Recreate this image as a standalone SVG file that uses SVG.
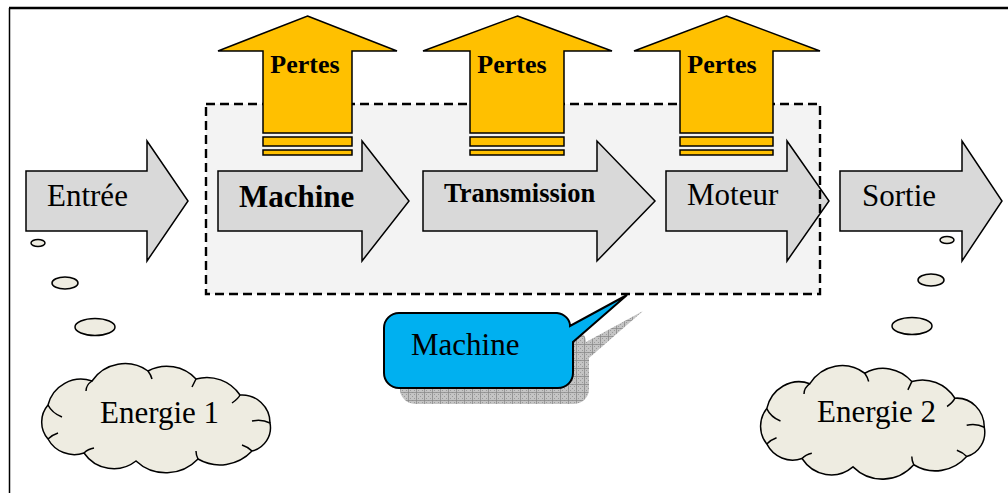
<svg xmlns="http://www.w3.org/2000/svg" width="1008" height="493" viewBox="0 0 1008 493">
  <style>
    .frame { stroke: #000; fill: none; }
    .flow { fill: #d9d9d9; stroke: #000; stroke-width: 1.5; stroke-linejoin: miter; }
    .loss { fill: #ffc000; stroke: #000; stroke-width: 1.5; }
    .bubble { fill: #eeece1; stroke: #000; stroke-width: 1.5; }
    .cloud-line { fill: none; stroke: #000; stroke-width: 1.5; }
    .t { font-family: "Liberation Serif", "Times New Roman", serif; fill: #000; }
    .reg { font-size: 31px; }
    .bold { font-weight: bold; }
    .loss-t { font-size: 26px; font-weight: bold; text-anchor: middle; }
  </style>
  <defs>
    <pattern id="hatch" width="8" height="8" patternUnits="userSpaceOnUse">
      <rect width="8" height="8" fill="#c4c4c4"/>
      <rect x="0" y="0" width="1" height="1" fill="#9a9a9a"/>
      <rect x="2" y="2" width="1" height="1" fill="#9a9a9a"/>
      <rect x="4" y="4" width="1" height="1" fill="#9a9a9a"/>
      <rect x="6" y="6" width="1" height="1" fill="#9a9a9a"/>
      <rect x="4" y="0" width="1" height="1" fill="#9a9a9a"/>
      <rect x="0" y="4" width="1" height="1" fill="#9a9a9a"/>
      <rect x="6" y="2" width="1" height="1" fill="#9a9a9a"/>
      <rect x="2" y="6" width="1" height="1" fill="#9a9a9a"/>
      <path d="M0 0.5 H8 M0.5 0 V8" stroke="#8c8c8c" stroke-width="0.8"/>
    </pattern>
    <!-- cloud outline in a 240 x 100 box -->
    <path id="cloud-shape" d="M12 74 A26 26 0 0 1 12 40 A34 34 0 0 1 56 16 A40 40 0 0 1 112 6 A40 40 0 0 1 160 14 A40 40 0 0 1 204 30 A28 28 0 0 1 234 58 A24 24 0 0 1 216 86 A44 44 0 0 1 162 94 A44 44 0 0 1 100 96 A36 36 0 0 1 48 88 A30 30 0 0 1 12 74 Z"/>
    <g id="cloud">
      <use href="#cloud-shape" class="bubble"/>
      <path class="cloud-line" d="M12 40 Q16 48 26 52 M56 16 Q50 20 50 26 M112 6 Q115 10 116 14 M160 14 Q158 18 156 22 M204 30 Q202 34 196 38 M234 58 Q226 54 216 56 M216 86 Q212 82 206 80 M162 94 Q160 90 160 86 M48 88 Q52 84 58 83 M12 74 Q16 70 22 68"/>
    </g>
  </defs>

  <!-- page frame -->
  <path class="frame" d="M9 8 H1008" stroke-width="2.5"/>
  <path class="frame" d="M9.5 8 V493" stroke-width="1.5"/>

  <!-- machine boundary -->
  <rect id="machine-zone" x="206" y="104" width="614" height="190" fill="#f3f3f3"/>

  <g id="connectors">
    <!-- thought bubbles from input / output to energies -->
    <ellipse class="bubble" cx="38" cy="243" rx="7" ry="3.5"/>
    <ellipse class="bubble" cx="65" cy="283" rx="13" ry="6"/>
    <ellipse class="bubble" cx="95" cy="327" rx="20" ry="8.5"/>
    <ellipse class="bubble" cx="947" cy="240" rx="7" ry="3.5"/>
    <ellipse class="bubble" cx="931" cy="280" rx="13" ry="6"/>
    <ellipse class="bubble" cx="912" cy="326" rx="20" ry="8.5"/>
  </g>

  <g id="entree">
    <path class="flow" d="M26 171 H147 V141 L188 201 L147 261 V231 H26 Z"/>
    <text class="t reg" x="47" y="206">Entrée</text>
  </g>
  <g id="machine">
    <path class="flow" d="M218 171 H362 V141 L409 201 L362 261 V231 H218 Z"/>
    <text class="t reg bold" x="239" y="207">Machine</text>
  </g>
  <g id="transmission">
    <path class="flow" d="M423 171 H597 V141 L655 201 L597 261 V231 H423 Z"/>
    <text class="t bold" x="444" y="202" font-size="26.5">Transmission</text>
  </g>
  <g id="moteur">
    <path class="flow" d="M666 171 H787 V141 L829 201 L787 261 V231 H666 Z"/>
    <text class="t reg" x="687" y="205">Moteur</text>
  </g>
  <g id="sortie">
    <path class="flow" d="M840 171 H962 V141 L1002 201 L962 261 V231 H840 Z"/>
    <text class="t reg" x="862" y="206">Sortie</text>
  </g>

  <!-- dashed outline drawn over the flow arrows -->
  <rect x="206" y="104" width="614" height="190" fill="none" stroke="#000" stroke-width="2.4" stroke-dasharray="9 5"/>

  <g id="pertes-machine">
    <path class="loss" d="M307.5 16 L397 51 H352 V133 H263 V51 H218 Z"/>
    <rect class="loss" x="263" y="137" width="89" height="9"/>
    <rect class="loss" x="263" y="150" width="89" height="5"/>
    <text class="t loss-t" x="305" y="73">Pertes</text>
  </g>
  <g id="pertes-transmission">
    <path class="loss" d="M517.5 16 L612 51 H564 V133 H470 V51 H423 Z"/>
    <rect class="loss" x="470" y="137" width="94" height="9"/>
    <rect class="loss" x="470" y="150" width="94" height="5"/>
    <text class="t loss-t" x="512" y="73">Pertes</text>
  </g>
  <g id="pertes-moteur">
    <path class="loss" d="M726.5 16 L820 51 H773 V133 H680 V51 H634 Z"/>
    <rect class="loss" x="680" y="137" width="93" height="9"/>
    <rect class="loss" x="680" y="150" width="93" height="5"/>
    <text class="t loss-t" x="722" y="73">Pertes</text>
  </g>

  <g id="callout-machine">
    <path transform="translate(16 16)" fill="url(#hatch)" d="M399 313 H557 A15 13 0 0 1 570 326 L627 295 L573 342 V373 A15 15 0 0 1 558 388 H399 A15 15 0 0 1 384 373 V328 A15 15 0 0 1 399 313 Z"/>
    <path fill="#00b0f0" stroke="#000" stroke-width="2" stroke-linejoin="miter" d="M399 313 H557 A15 13 0 0 1 570 326 L627 295 L573 342 V373 A15 15 0 0 1 558 388 H399 A15 15 0 0 1 384 373 V328 A15 15 0 0 1 399 313 Z"/>
    <text class="t reg" x="411" y="355">Machine</text>
  </g>

  <g id="energie-1">
    <use href="#cloud" transform="translate(36 365)"/>
    <text class="t reg" x="100" y="423">Energie 1</text>
  </g>
  <g id="energie-2">
    <use href="#cloud" transform="translate(755 367) scale(0.98 1.04)"/>
    <text class="t reg" x="817" y="422">Energie 2</text>
  </g>
</svg>
